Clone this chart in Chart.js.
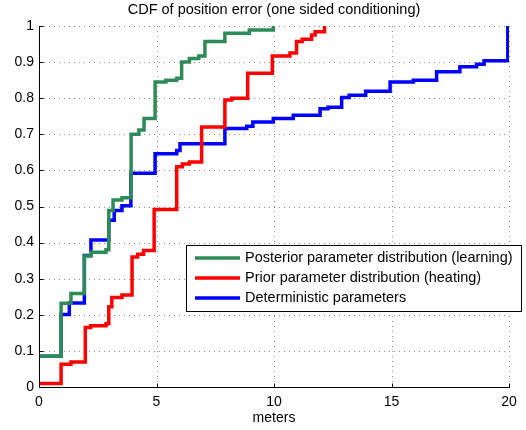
<!DOCTYPE html>
<html><head><meta charset="utf-8">
<script src="https://cdn.jsdelivr.net/npm/chart.js@4/dist/chart.umd.min.js"></script>
<style>html,body{margin:0;padding:0;background:#fff}</style>
</head><body>
<canvas id="c" width="526" height="430"></canvas>
<script>
const titleText = 'CDF of position error (one sided conditioning)';
const xAxisLabel = 'meters';
const xTicks = [0, 5, 10, 15, 20];
const yTicks = [0, 0.1, 0.2, 0.3, 0.4, 0.5, 0.6, 0.7, 0.8, 0.9, 1];
const seriesNames = ['Posterior parameter distribution (learning)', 'Prior parameter distribution (heating)', 'Deterministic parameters'];
const seriesColors = ['#2e8b57', '#ff0000', '#0000ff'];

// step CDFs: x where the step happens, y value after the step
const posteriorX = [0, 0.94, 1.36, 1.93, 2.2, 2.85, 2.97, 3.15, 3.53, 3.92, 4.25, 4.47, 4.94, 5.4, 5.86, 6.07, 6.4, 6.8, 7.06, 7.91, 8.95, 9.97];
const posteriorY = [0.085, 0.232, 0.259, 0.363, 0.373, 0.38, 0.489, 0.518, 0.524, 0.70, 0.712, 0.744, 0.845, 0.85, 0.855, 0.90, 0.91, 0.917, 0.957, 0.98, 0.989, 1.0];

const priorX = [0, 0.94, 1.36, 1.97, 2.2, 2.85, 2.97, 3.1, 3.53, 3.96, 4.2, 4.45, 4.9, 5.86, 6.1, 6.4, 6.92, 7.91, 8.2, 8.88, 9.93, 10.68, 10.96, 11.2, 11.6, 11.75, 12.15];
const priorY = [0.01, 0.063, 0.069, 0.165, 0.17, 0.175, 0.222, 0.248, 0.255, 0.36, 0.368, 0.378, 0.492, 0.61, 0.618, 0.623, 0.72, 0.795, 0.80, 0.869, 0.917, 0.925, 0.957, 0.963, 0.975, 0.984, 1.0];

const deterministicX = [0, 0.94, 1.29, 1.93, 2.21, 2.97, 3.2, 3.53, 3.91, 4.94, 5.86, 6.0, 7.91, 8.84, 9.1, 9.97, 10.82, 11.96, 12.3, 12.88, 13.2, 13.9, 14.94, 15.93, 16.92, 17.91, 18.62, 18.94, 19.95];
const deterministicY = [0.085, 0.201, 0.233, 0.364, 0.407, 0.462, 0.489, 0.502, 0.592, 0.646, 0.655, 0.674, 0.716, 0.722, 0.734, 0.744, 0.753, 0.771, 0.775, 0.802, 0.808, 0.819, 0.845, 0.85, 0.873, 0.887, 0.894, 0.904, 1.0];

const seriesX = [posteriorX, priorX, deterministicX];
const seriesY = [posteriorY, priorY, deterministicY];

const FONT = '"Liberation Sans", Arial, Helvetica, sans-serif';

const datasets = seriesNames.map((name, i) => ({
  label: name,
  data: seriesX[i].map((x, j) => ({x: x, y: seriesY[i][j]})),
  borderColor: seriesColors[i],
  backgroundColor: seriesColors[i],
  borderWidth: 3.5,
  pointRadius: 0,
  stepped: 'before',
  fill: false,
  tension: 0
}));

function seg(ctx, x1, y1, x2, y2) { ctx.beginPath(); ctx.moveTo(x1, y1); ctx.lineTo(x2, y2); ctx.stroke(); }

const matlabAxes = {
  id: 'matlabAxes',
  beforeDatasetsDraw(chart) {
    const {ctx, chartArea: a, scales: {x, y}} = chart;
    ctx.save();
    ctx.strokeStyle = '#8a8a8a';
    ctx.lineWidth = 1;
    ctx.setLineDash([1, 4]);
    xTicks.forEach(v => { const p = Math.round(x.getPixelForValue(v)) + 0.5; seg(ctx, p, a.bottom, p, a.top); });
    yTicks.forEach(v => { const p = Math.round(y.getPixelForValue(v)) + 0.5; seg(ctx, a.left, p, a.right, p); });
    ctx.restore();
  },
  afterDatasetsDraw(chart) {
    const {ctx, chartArea: a, scales: {x, y}} = chart;
    ctx.save();
    ctx.strokeStyle = '#000';
    ctx.lineWidth = 1;
    ctx.setLineDash([]);
    const L = Math.round(a.left) + 0.5, B = Math.round(a.bottom) + 0.5;
    seg(ctx, L, Math.round(a.top), L, B);
    seg(ctx, L, B, Math.round(a.right) + 1, B);
    xTicks.forEach(v => { const p = Math.round(x.getPixelForValue(v)) + 0.5; seg(ctx, p, B, p, B - 4); });
    yTicks.forEach(v => { const p = Math.round(y.getPixelForValue(v)) + 0.5; seg(ctx, L, p, L + 4, p); });
    // title
    ctx.fillStyle = '#000';
    ctx.font = '14.5px ' + FONT;
    ctx.textAlign = 'center';
    ctx.textBaseline = 'middle';
    ctx.fillText(titleText, (a.left + a.right) / 2, 10);
    // legend
    const bx = 186.5, by = 245.5, bw = 335, bh = 66;
    ctx.fillStyle = '#fff';
    ctx.fillRect(bx, by, bw, bh);
    ctx.strokeRect(bx, by, bw, bh);
    ctx.textAlign = 'left';
    chart.data.datasets.forEach((ds, i) => {
      const ry = 258 + i * 20;
      ctx.strokeStyle = ds.borderColor;
      ctx.lineWidth = 3.5;
      seg(ctx, 195, ry, 240, ry);
      ctx.fillStyle = '#000';
      ctx.fillText(ds.label, 245, ry);
    });
    ctx.restore();
  }
};

new Chart(document.getElementById('c'), {
  type: 'line',
  data: { datasets: datasets },
  options: {
    responsive: false,
    animation: false,
    devicePixelRatio: 1,
    layout: { padding: { top: 26, right: 17, left: 0, bottom: 0 } },
    plugins: { legend: { display: false }, title: { display: false }, tooltip: { enabled: false } },
    scales: {
      x: {
        type: 'linear', min: 0, max: 20,
        afterBuildTicks: s => { s.ticks = xTicks.map(v => ({value: v})); },
        afterFit: s => { s.height = 43; },
        grid: { display: false, drawTicks: false },
        border: { display: false },
        ticks: { color: '#000', padding: 7, maxRotation: 0, autoSkip: false, font: { family: FONT, size: 14 } },
        title: { display: true, text: xAxisLabel, color: '#000', padding: { top: 0, bottom: 3 }, font: { family: FONT, size: 14 } }
      },
      y: {
        type: 'linear', min: 0, max: 1,
        afterBuildTicks: s => { s.ticks = yTicks.map(v => ({value: v})); },
        afterFit: s => { s.width = 39; },
        grid: { display: false, drawTicks: false },
        border: { display: false },
        ticks: { color: '#000', padding: 5, autoSkip: false, font: { family: FONT, size: 14 }, callback: v => String(Math.round(v * 10) / 10) }
      }
    }
  },
  plugins: [matlabAxes]
});
</script>
</body></html>
